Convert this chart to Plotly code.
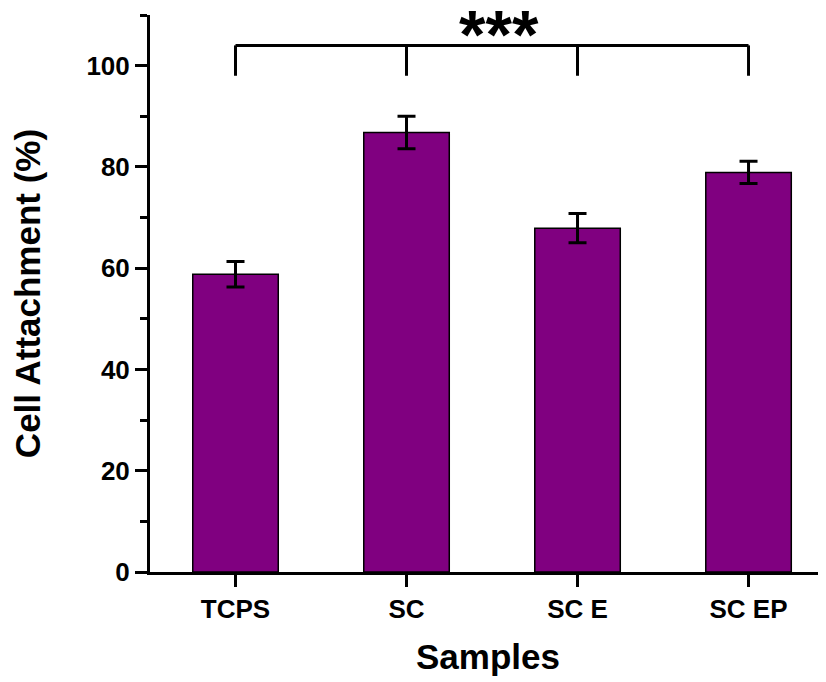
import plotly.graph_objects as go

samples = ["TCPS", "SC", "SC E", "SC EP"]
attachment = [58.8, 86.8, 67.9, 78.9]
errors = [2.5, 3.2, 2.9, 2.2]

# significance bracket (x in category index, y in data units)
bracket_x = [0, 0, None, 0, 3, None, 1, 1, None, 2, 2, None, 3, 3]
bracket_y = [98, 104, None, 104, 104, None, 98, 104, None, 98, 104, None, 98, 104]
sig_label = "***"
sig_x = 1.54
sig_y = 104

FONT = "Liberation Sans, Arial, sans-serif"

fig = go.Figure()
fig.add_trace(go.Bar(
    x=list(range(len(samples))), y=attachment,
    width=0.5,
    marker=dict(color="#800080", line=dict(color="black", width=1.5)),
    error_y=dict(type="data", array=errors, visible=True,
                 color="black", thickness=3, width=9),
    showlegend=False,
))
fig.add_trace(go.Scatter(
    x=bracket_x, y=bracket_y, mode="lines",
    line=dict(color="black", width=3), showlegend=False,
    hoverinfo="skip", connectgaps=False,
))
fig.add_annotation(x=sig_x, y=sig_y, text=sig_label, showarrow=False,
                   xref="x", yref="y", yanchor="bottom", yshift=-29,
                   font=dict(family=FONT, size=68, color="black", weight="bold"))

# page body has an 8px default margin, so the figure is sized/shifted to compensate
fig.update_layout(
    width=818, height=674,
    margin=dict(l=142, r=0, t=7, b=110),
    paper_bgcolor="white", plot_bgcolor="white",
    bargap=0.5,
)
fig.update_xaxes(
    range=[-0.5, 3.453],
    tickmode="array", tickvals=list(range(len(samples))), ticktext=samples,
    showline=True, linecolor="black", linewidth=3,
    ticks="outside", ticklen=12, tickwidth=3, tickcolor="black",
    tickfont=dict(family=FONT, size=26, color="black", weight="bold"),
    showgrid=False, zeroline=False,
    title=dict(text="Samples", standoff=22,
               font=dict(family=FONT, size=35, color="black", weight="bold")),
)
fig.update_yaxes(
    range=[0, 110], dtick=20, tick0=0,
    showline=True, linecolor="black", linewidth=3,
    ticks="outside", ticklen=12, tickwidth=3, tickcolor="black",
    minor=dict(dtick=10, ticks="outside", ticklen=7, tickwidth=3, tickcolor="black"),
    tickfont=dict(family=FONT, size=26, color="black", weight="bold"),
    showgrid=False, zeroline=False,
    title=dict(text="Cell Attachment (%)", standoff=36,
               font=dict(family=FONT, size=35, color="black", weight="bold")),
)

fig.write_html("out.html")
